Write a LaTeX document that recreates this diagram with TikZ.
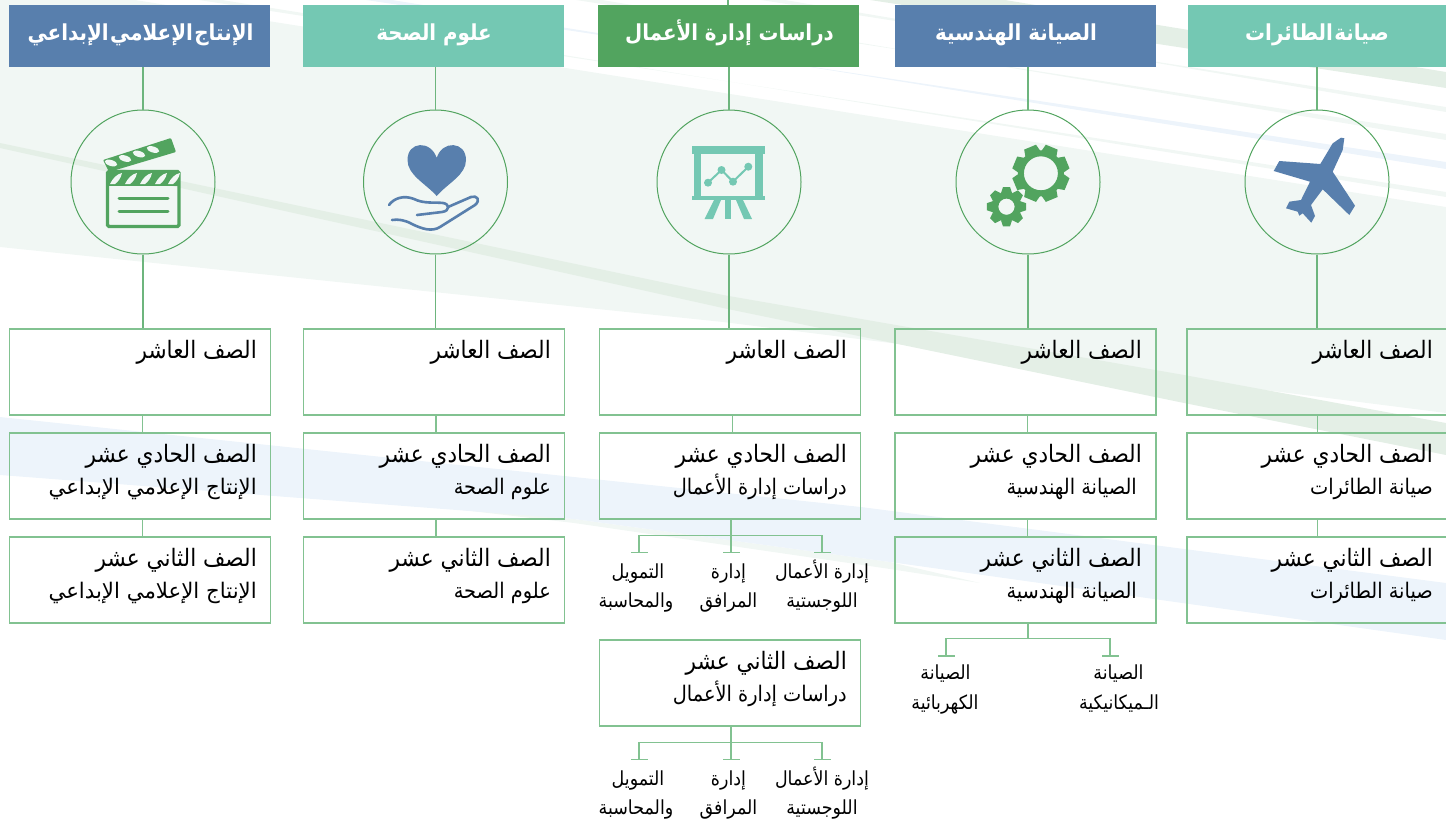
\documentclass[tikz,border=0pt]{standalone}
\usepackage{fontspec}
\usetikzlibrary{arrows.meta}
\newfontfamily\arabicfont[Script=Arabic,FakeStretch=0.9]{DejaVu Sans}
\newfontfamily\arabicbold[Script=Arabic,FakeStretch=0.9]{DejaVu Sans Bold}
\newfontfamily\arabictight[Script=Arabic,FakeStretch=0.905,WordSpace=0.2]{DejaVu Sans Bold}
\TeXXeTstate=1
\newcommand{\arb}[1]{\arabicfont\beginR #1\endR}
\newcommand{\arbb}[1]{\arabicbold\beginR #1\endR}
\newcommand{\arbt}[1]{\arabictight\beginR #1\endR}
\definecolor{paleg}{HTML}{F1F7F4}
\definecolor{darkg}{HTML}{E4EFE6}
\definecolor{paleb}{HTML}{EDF4FB}
\definecolor{bluehead}{HTML}{587FAD}
\definecolor{tealhead}{HTML}{74C8B3}
\definecolor{greenhead}{HTML}{52A45F}
\definecolor{linkg}{HTML}{82C291}
\definecolor{thing}{HTML}{6DB57D}
\begin{document}
\begin{tikzpicture}[x=1pt,y=-1pt]
\tikzstyle{headbox}=[rectangle,minimum width=261pt,minimum height=62pt,inner sep=0pt]
\tikzstyle{headtext}=[anchor=base,inner sep=0pt,text=white,font=\fontsize{22}{22}\selectfont]
\tikzstyle{disc}=[circle,draw=greenhead,line width=1pt,minimum size=144pt,inner sep=0pt]
\tikzstyle{gradebox}=[rectangle,draw=linkg,line width=1.1pt,minimum width=261pt,minimum height=86pt,inner sep=0pt]
\tikzstyle{gradetext}=[anchor=base east,inner sep=0pt,text=black,font=\fontsize{24}{24}\selectfont]
\tikzstyle{subtext}=[anchor=base east,inner sep=0pt,text=black,font=\fontsize{21.5}{21.5}\selectfont]
\tikzstyle{smalltext}=[anchor=base,inner sep=0pt,text=black,font=\fontsize{19.4}{19.4}\selectfont]
\tikzstyle{link}=[draw=linkg,line width=1.1pt]
\tikzstyle{thinlink}=[draw=thing,line width=1.1pt]
\tikzstyle{tee}=[link,-{Bar[width=17pt,length=0pt,line width=1.1pt]}]
\useasboundingbox (0,0) rectangle (1446,819);
\clip (0,0) rectangle (1446,819);
\fill[paleg] (0,0) -- (135,0) -- (1446,207) -- (1446,413) -- (1186,380) -- (723,322) -- (0,247) -- cycle;
\fill[paleg] (199,0) -- (222,0) -- (1446,197) -- (1446,192) -- cycle;
\fill[paleb] (366,0) -- (392,0) -- (1446,169) -- (1446,162) -- cycle;
\fill[paleg] (576,0) -- (602,0) -- (1446,140) -- (1446,134) -- cycle;
\fill[paleg] (761,0) -- (785,0) -- (1446,112) -- (1446,107) -- cycle;
\fill[darkg] (870,0) -- (1005,0) -- (1446,72) -- (1446,88) -- cycle;
\fill[darkg] (0,143) -- (723,295) -- (1184,375) -- (1446,423) -- (1446,455) -- (1184,403) -- (723,308) -- (0,148) -- cycle;
\fill[paleg] (402,503) -- (574,519) -- (890,562) -- (980,583) -- (890,569) -- (574,523) -- cycle;
\fill[paleb] (0,417) -- (861,507) -- (1446,583) -- (1446,640) -- (890,562) -- (574,519) -- (0,475) -- cycle;

\foreach \colname/\boxx/\discx/\textx/\stemx in {one/140/143/257/142.5,two/434/435.5/551/436,three/730/729/847/732.5,four/1025.5/1028/1142/1027.5,five/1317.5/1317/1433/1317.5}{
  \node[disc] (disc\colname) at (\discx,182) {};
  \node[gradebox] (ten\colname) at (\boxx,372) {};
  \node[gradebox] (eleven\colname) at (\boxx,476) {};
  \node[gradetext] (tentext\colname) at (\textx,358) {\arb{الصف العاشر}};
  \node[gradetext] (eleventext\colname) at (\textx,462) {\arb{الصف الحادي عشر}};
  \coordinate (stem\colname) at (\stemx,424);
  \draw[thinlink] (disc\colname.south) -- (disc\colname.south |- ten\colname.north);
  \draw[link] (ten\colname.south -| stem\colname) -- (eleven\colname.north -| stem\colname);
}
\node[gradebox] (twelveone) at (140,580) {};
\node[gradebox] (twelvetwo) at (434,580) {};
\node[gradebox] (twelvethree) at (730,683) {};
\node[gradebox] (twelvefour) at (1025.5,580) {};
\node[gradebox] (twelvefive) at (1317.5,580) {};
\node[gradetext] (twelvetextone) at (257,566) {\arb{الصف الثاني عشر}};
\node[gradetext] (twelvetexttwo) at (551,566) {\arb{الصف الثاني عشر}};
\node[gradetext] (twelvetextthree) at (847,669) {\arb{الصف الثاني عشر}};
\node[gradetext] (twelvetextfour) at (1142,566) {\arb{الصف الثاني عشر}};
\node[gradetext] (twelvetextfive) at (1433,566) {\arb{الصف الثاني عشر}};
\node[subtext] (subone) at (257,494) {\scalebox{1.1}[1]{\arb{الإنتاج الإعلامي الإبداعي}}};
\node[subtext] (subtwo) at (551,494) {\arb{علوم الصحة}};
\node[subtext] (subthree) at (847,494) {\arb{دراسات إدارة الأعمال}};
\node[subtext] (subfour) at (1137,494) {\arb{الصيانة الهندسية}};
\node[subtext] (subfive) at (1433,494) {\arb{صيانة الطائرات}};
\node[subtext] (lastone) at (257,598) {\scalebox{1.1}[1]{\arb{الإنتاج الإعلامي الإبداعي}}};
\node[subtext] (lasttwo) at (551,598) {\arb{علوم الصحة}};
\node[subtext] (lastthree) at (847,701) {\arb{دراسات إدارة الأعمال}};
\node[subtext] (lastfour) at (1137,598) {\arb{الصيانة الهندسية}};
\node[subtext] (lastfive) at (1433,598) {\arb{صيانة الطائرات}};

\node[headbox,fill=bluehead] (headone) at (139.5,36) {};
\node[headbox,fill=tealhead] (headtwo) at (433.5,36) {};
\node[headbox,fill=greenhead] (headthree) at (728.5,36) {};
\node[headbox,fill=bluehead] (headfour) at (1025.5,36) {};
\node[headbox,fill=tealhead] (headfive) at (1318.5,36) {};
\node[headtext] (headtextone) at (140.5,40.5) {\arbt{الإنتاج الإعلامي الإبداعي}};
\node[headtext] (headtexttwo) at (434,40.5) {\arbb{علوم الصحة}};
\node[headtext] (headtextthree) at (729.5,40.5) {\arbb{دراسات إدارة الأعمال}};
\node[headtext] (headtextfour) at (1016,40.5) {\arbb{الصيانة الهندسية}};
\node[headtext] (headtextfive) at (1317,40.5) {\arbt{صيانة الطائرات}};

\coordinate (topthree) at (728,0);
\draw[thinlink] (topthree) -- (topthree |- headthree.north);
\draw[thinlink] (discone.north) -- (discone.north |- headone.south);
\draw[thinlink] (disctwo.north) -- (disctwo.north |- headtwo.south);
\draw[thinlink] (discthree.north) -- (discthree.north |- headthree.south);
\draw[thinlink] (discfour.north) -- (discfour.north |- headfour.south);
\draw[thinlink] (discfive.north) -- (discfive.north |- headfive.south);
\draw[link] (elevenone.south -| stemone) -- (twelveone.north -| stemone);
\draw[link] (eleventwo.south -| stemtwo) -- (twelvetwo.north -| stemtwo);
\draw[link] (elevenfour.south -| stemfour) -- (twelvefour.north -| stemfour);
\draw[link] (elevenfive.south -| stemfive) -- (twelvefive.north -| stemfive);

\node[smalltext] (logaone) at (822,578) {\arb{إدارة الأعمال}};
\node[smalltext] (logbone) at (822,607) {\arb{اللوجستية}};
\node[smalltext] (facaone) at (728.5,578) {\arb{إدارة}};
\node[smalltext] (facbone) at (728.5,607) {\arb{المرافق}};
\node[smalltext] (finaone) at (638,578) {\arb{التمويل}};
\node[smalltext] (finbone) at (636,607) {\arb{والمحاسبة}};
\node[smalltext] (logatwo) at (822,785) {\arb{إدارة الأعمال}};
\node[smalltext] (logbtwo) at (822,814) {\arb{اللوجستية}};
\node[smalltext] (facatwo) at (728.5,785) {\arb{إدارة}};
\node[smalltext] (facbtwo) at (728.5,814) {\arb{المرافق}};
\node[smalltext] (finatwo) at (638,785) {\arb{التمويل}};
\node[smalltext] (finbtwo) at (636,814) {\arb{والمحاسبة}};
\node[smalltext] (elecatext) at (945.5,679) {\arb{الصيانة}};
\node[smalltext] (elecbtext) at (945,709) {\arb{الكهربائية}};
\node[smalltext] (mechatext) at (1118.5,679) {\arb{الصيانة}};
\node[smalltext] (mechbtext) at (1119,709) {\arb{الـميكانيكية}};

\coordinate (barone) at (731,535.5);
\coordinate (teelogone) at (822,553);
\coordinate (teefacone) at (731,553);
\coordinate (teefinone) at (639,553);
\draw[link] (eleventhree.south -| barone) -- (barone);
\draw[tee] (barone) -- (teefacone);
\draw[tee] (barone) -| (teelogone);
\draw[tee] (barone) -| (teefinone);
\coordinate (bartwo) at (731,742.5);
\coordinate (teelogtwo) at (822,760);
\coordinate (teefactwo) at (731,760);
\coordinate (teefintwo) at (639,760);
\draw[link] (twelvethree.south -| bartwo) -- (bartwo);
\draw[tee] (bartwo) -- (teefactwo);
\draw[tee] (bartwo) -| (teelogtwo);
\draw[tee] (bartwo) -| (teefintwo);
\coordinate (barfour) at (1028,638.5);
\coordinate (teeelec) at (946,656.5);
\coordinate (teemech) at (1110,656.5);
\draw[link] (twelvefour.south -| barfour) -- (barfour);
\draw[tee] (barfour) -| (teeelec);
\draw[tee] (barfour) -| (teemech);

\draw[greenhead,line width=3.4pt,rounded corners=1.5pt] (107.5,171.5) rectangle (179,226.5);
\fill[greenhead] (107.5,171.5) rectangle (179,186);
\foreach \stripex in {110,125,140,155,168}
  \fill[paleg] (\stripex,184) .. controls (\stripex+3,178) and (\stripex+7,174) .. (\stripex+12,173) .. controls (\stripex+11,178) and (\stripex+8,182) .. (\stripex+5,184) -- cycle;
\draw[greenhead,line width=3pt,line cap=round] (119,198) -- (168,198) (119,211) -- (168,211);
\fill[greenhead,rounded corners=1pt] (103,160) -- (171,138) -- (176,152) -- (109,172) -- cycle;
\foreach \stripex/\stripey in {111/163,125/158.5,139/154,153/149.5}
  \fill[paleg,rotate around={-17:(\stripex,\stripey)}] (\stripex,\stripey) ellipse (6.5pt and 3pt);

\fill[bluehead] (436.7,196) .. controls (425,183) and (407.5,175) .. (407.5,160) .. controls (407.5,141) and (431,140) .. (436.7,158) .. controls (442,140) and (466,141) .. (466,160) .. controls (466,175) and (448,183) .. (436.7,196) -- cycle;
\draw[bluehead,line width=2.6pt,line cap=round,line join=round] (389,205) .. controls (394,198) and (404,195) .. (414,199) .. controls (424,204) and (435,202) .. (443,203) .. controls (450,204) and (450,211) .. (442,212) -- (417,215);
\draw[bluehead,line width=2.6pt,line cap=round,line join=round] (448,207) -- (471,197) .. controls (477,195) and (481,200) .. (475,205) -- (440,227) .. controls (432,232) and (422,229) .. (412,224) .. controls (405,220) and (398,219) .. (392,220);

\fill[tealhead] (691.5,145.5) rectangle (765,154);
\fill[tealhead] (691.5,196) rectangle (765,200);
\fill[tealhead] (693.7,154) rectangle (701.4,196);
\fill[tealhead] (755.4,154) rectangle (762.5,196);
\fill[tealhead] (714,200) -- (721,200) -- (713,219) -- (704.5,219) -- cycle;
\fill[tealhead] (725,200) rectangle (731.4,219);
\fill[tealhead] (736,200) -- (743,200) -- (752,219) -- (744,219) -- cycle;
\draw[tealhead,line width=2pt] (708,182.7) -- (721.5,170) -- (733,181.7) -- (748.3,166.7);
\foreach \dotx/\doty in {708/182.7,721.5/170,733/181.7,748.3/166.7}
  \fill[tealhead] (\dotx,\doty) circle (4pt);

\foreach \toothangle in {22.5,67.5,...,337.5}
  \fill[greenhead,rotate around={\toothangle:(1040.9,173.3)}] (1034.5,145) -- (1047.3,145) -- (1049.5,155) -- (1032.3,155) -- cycle;
\draw[greenhead,line width=6pt] (1040.9,173.3) circle (20pt);
\foreach \toothangle in {0,45,...,315}
  \fill[greenhead,rotate around={\toothangle:(1006.5,206.7)}] (1003,187) -- (1010,187) -- (1012,193) -- (1001,193) -- cycle;
\draw[greenhead,line width=6.6pt] (1006.5,206.7) circle (11.5pt);

\fill[bluehead] (1344.3,138.3) -- (1342.7,150) -- (1332.7,171.7) -- (1355,205.7) -- (1349.3,215) -- (1322.7,189.3) -- (1311,205) -- (1315,216) -- (1311.3,222.7) -- (1302.7,213.3) -- (1299.3,215.7) -- (1297.7,211.7) -- (1286,208.3) -- (1289.3,201.7) -- (1301,200) -- (1310,181.7) -- (1273.7,171) -- (1279.3,161) -- (1320.3,164) -- (1332.7,143.3) -- (1341,137.7) -- cycle;
\end{tikzpicture}
\end{document}
